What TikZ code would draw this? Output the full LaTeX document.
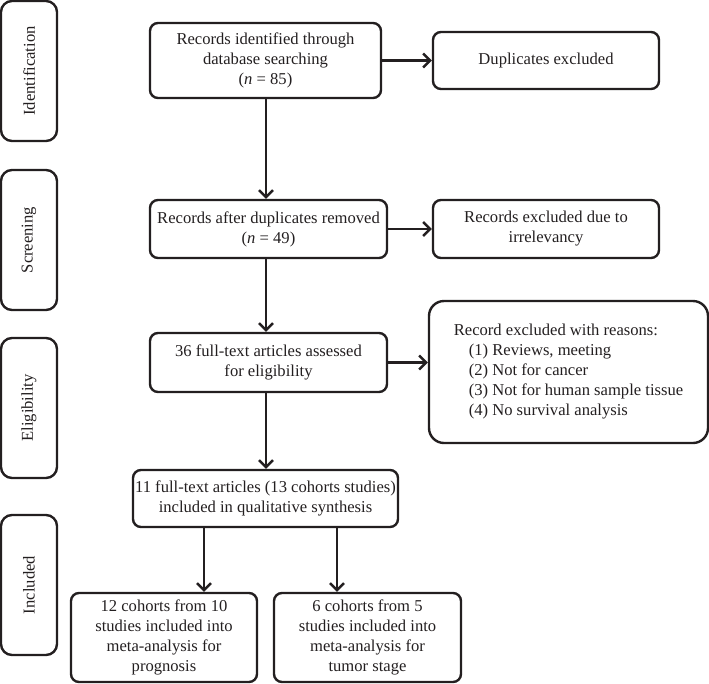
\documentclass[tikz,border=0pt]{standalone}
\usepackage{fontspec}
\setmainfont{Liberation Serif}
\usetikzlibrary{arrows.meta}
\definecolor{ink}{HTML}{231F20}
\tikzset{
  txt/.style={font=\fontsize{16.6}{20}\selectfont, text=ink},
  box/.style={txt, draw=ink, line width=2.4pt, rounded corners=8pt, align=center, inner sep=1pt},
  side/.style={box, minimum width=56pt, minimum height=140pt, rounded corners=11pt},
  arr/.style={draw=ink, line width=2.4pt, -{Straight Barb[length=7pt,width=14pt,line width=2.4pt]}}
}
\begin{document}
\begin{tikzpicture}[x=1pt,y=-1pt]
\useasboundingbox (0,0) rectangle (709,683);
% side labels
\node[side] (ident) at (29,71) {};
\node[txt, rotate=90] (identl) at (ident) {Identification};
\node[side] (screen) at (29,240) {};
\node[txt, rotate=90] (screenl) at (screen) {Screening};
\node[side] (elig) at (29,408) {};
\node[txt, rotate=90] (eligl) at (elig) {Eligibility};
\node[side] (incl) at (29,585) {};
\node[txt, rotate=90] (incll) at (incl) {Included};
% main
\node[box, minimum width=231pt, minimum height=75pt] (b1) at (265.5,60.5)
  {Records identified through\\database searching\\(\textit{n} = 85)};
\node[box, minimum width=226pt, minimum height=57pt] (dup) at (546,60.5) {Duplicates excluded};
\node[box, minimum width=237pt, minimum height=58pt] (b2) at (268.5,229)
  {Records after duplicates removed\\(\textit{n} = 49)};
\node[box, minimum width=226pt, minimum height=58pt] (irr) at (546,229)
  {Records excluded due to\\irrelevancy};
\node[box, minimum width=237pt, minimum height=59pt] (b3) at (268.5,362.5)
  {36 full-text articles assessed\\for eligibility};
\node[box, minimum width=279pt, minimum height=142pt, rounded corners=15pt, align=left] (rsn) at (568.5,372)
  {Record excluded with reasons:\\
   \hspace*{15pt}(1) Reviews, meeting\\
   \hspace*{15pt}(2) Not for cancer\\
   \hspace*{15pt}(3) Not for human sample tissue\\
   \hspace*{15pt}(4) No survival analysis};
\node[box, minimum width=265pt, minimum height=57pt, inner xsep=0pt] (b4) at (265.5,498.5)
  {11 full-text articles (13 cohorts studies)\\included in qualitative synthesis};
\node[box, minimum width=186pt, minimum height=89pt] (b5) at (164,637.5)
  {12 cohorts from 10\\studies included into\\meta-analysis for\\prognosis};
\node[box, minimum width=187pt, minimum height=89pt] (b6) at (367.5,637.5)
  {6 cohorts from 5\\studies included into\\meta-analysis for\\tumor stage};
% connectors
\coordinate (v1) at (266,0);
\draw[arr] (b1.south -| v1) -- (b2.north -| v1);
\draw[arr] (b2.south -| v1) -- (b3.north -| v1);
\draw[arr] (b3.south -| v1) -- (b4.north -| v1);
\draw[arr] (b1.east) -- (dup.west);
\draw[arr] (b2.east |- irr.west) -- (irr.west);
\draw[arr] (b3.east) -- (rsn.west |- b3.east);
\coordinate (v5) at (204,0);
\coordinate (v6) at (337,0);
\draw[arr] (b4.south -| v5) -- (b5.north -| v5);
\draw[arr] (b4.south -| v6) -- (b6.north -| v6);
\end{tikzpicture}
\end{document}
